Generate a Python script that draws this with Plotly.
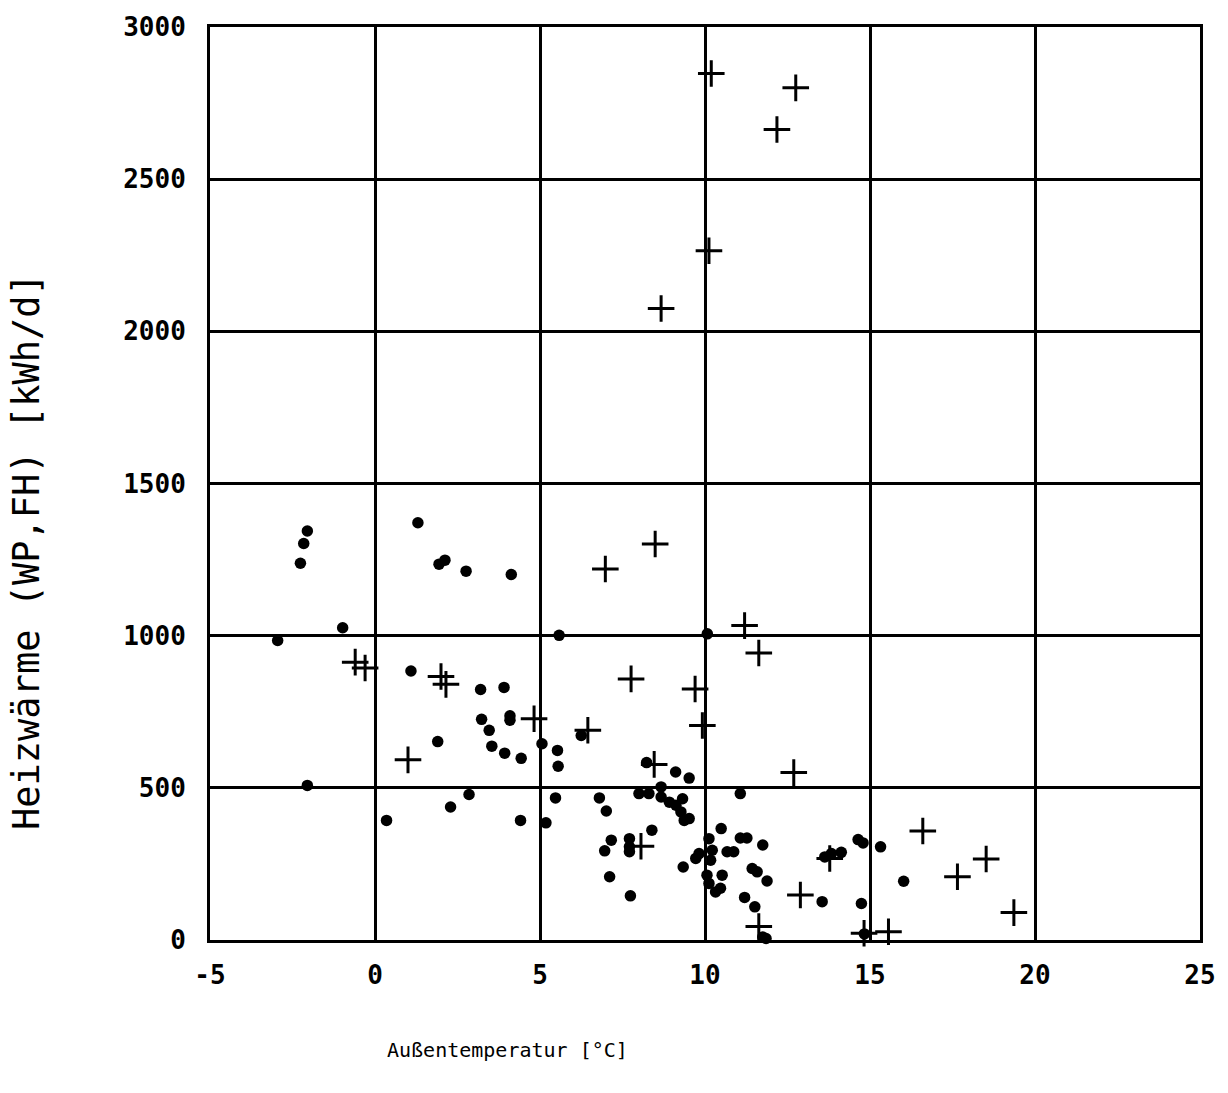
import plotly.graph_objects as go

# Filled-dot series (temperature °C, heat kWh/d)
dots_x = [-2.05, -2.16, -2.26, -0.98, -2.95, 1.30, 1.94, 2.12, 2.76, 4.13, 5.58, 1.09,
          3.20, 3.91, 3.23, 4.09, 4.09, 3.46, 3.54, 3.93, 4.43, 1.90, 5.06, 5.53, 5.55,
          6.25, -2.05, 0.35, 2.29, 2.85, 4.41, 5.18, 5.47, 6.8, 8.23, 9.11, 9.52, 11.07,
          7.01, 8.0, 8.3, 8.67, 8.67, 8.92, 9.12, 9.32, 9.27, 9.37, 9.52, 8.39, 7.16, 6.96,
          7.71, 7.71, 7.71, 7.11, 7.74, 9.34, 9.72, 9.82, 10.12, 10.22, 10.17, 10.06, 10.12,
          10.32, 10.47, 10.52, 10.49, 10.67, 10.87, 11.07, 11.27, 11.75, 11.43, 11.58, 11.88,
          11.20, 11.51, 13.55, 13.63, 13.83, 14.13, 14.64, 14.79, 14.74, 14.83, 15.32, 16.02,
          10.07, 11.75, 11.85]
dots_y = [1344, 1303, 1238, 1026, 984, 1371, 1235, 1248, 1212, 1201, 1001, 884,
          823, 830, 725, 737, 722, 689, 637, 614, 597, 652, 645, 623, 571,
          672, 508, 393, 437, 478, 393, 385, 467, 467, 583, 552, 532, 481,
          424, 481, 481, 503, 470, 453, 443, 464, 421, 393, 399, 361, 328, 293,
          333, 306, 290, 208, 145, 240, 268, 284, 333, 295, 262, 213, 186,
          158, 170, 213, 366, 290, 290, 335, 335, 312, 235, 224, 194,
          140, 109, 126, 273, 284, 288, 330, 319, 120, 20, 306, 193,
          1006, 10, 5]

# Plus series
plus_x = [-0.60, -0.30, 2.0, 2.15, 1.0, 4.82, 6.45, 7.76, 9.70, 9.92, 11.63, 8.46,
          12.69, 8.06, 12.89, 11.63, 14.82, 16.60, 18.52, 17.65, 19.36, 15.56, 13.78,
          10.19, 12.75, 12.18, 10.12, 8.67, 8.49, 6.98, 11.20]
plus_y = [913, 894, 866, 840, 592, 727, 689, 858, 825, 705, 943, 577,
          550, 308, 148, 44, 22, 358, 266, 208, 90, 27, 268,
          2847, 2800, 2663, 2265, 2075, 1301, 1219, 1033]

x_ticks = [-5, 0, 5, 10, 15, 20, 25]
y_ticks = [0, 500, 1000, 1500, 2000, 2500, 3000]

fig = go.Figure()
fig.add_trace(go.Scatter(
    x=dots_x, y=dots_y, mode="markers", cliponaxis=False,
    marker=dict(symbol="circle", size=11.5, color="black", line=dict(width=0)),
    showlegend=False))
fig.add_trace(go.Scatter(
    x=plus_x, y=plus_y, mode="markers", cliponaxis=False,
    marker=dict(symbol="cross-thin", size=19, color="black",
                line=dict(width=3, color="black")),
    showlegend=False))

tickfont = dict(family="DejaVu Sans Mono", size=26, color="black", weight="bold")
fig.update_xaxes(range=[-5, 25], tickvals=x_ticks, ticktext=[str(v) for v in x_ticks],
                 showgrid=True, gridcolor="black", gridwidth=2.5, zeroline=False,
                 showline=True, linecolor="black", linewidth=3, mirror=True,
                 ticks="", tickfont=tickfont, ticklabelstandoff=10)
fig.update_yaxes(range=[0, 3000], tickvals=y_ticks, ticktext=[str(v) for v in y_ticks],
                 showgrid=True, gridcolor="black", gridwidth=2.5, zeroline=False,
                 showline=True, linecolor="black", linewidth=3, mirror=True,
                 ticks="", tickfont=tickfont, ticklabelstandoff=16)

fig.add_annotation(text="Außentemperatur [°C]", xref="paper", yref="paper",
                   x=0.301, y=-0.1205, showarrow=False, xanchor="center", yanchor="middle",
                   font=dict(family="DejaVu Sans Mono", size=20, color="black"))
fig.add_annotation(text="Heizwärme (WP,FH) [kWh/d]", xref="paper", yref="paper",
                   x=-0.1848, y=0.425, showarrow=False, textangle=-90,
                   xanchor="center", yanchor="middle",
                   font=dict(family="DejaVu Sans Mono", size=37, color="black"))

fig.update_layout(width=1228, height=1093, autosize=False,
                  margin=dict(l=210, r=28, t=27, b=153),
                  paper_bgcolor="white", plot_bgcolor="white")

fig.write_html("out.html")
